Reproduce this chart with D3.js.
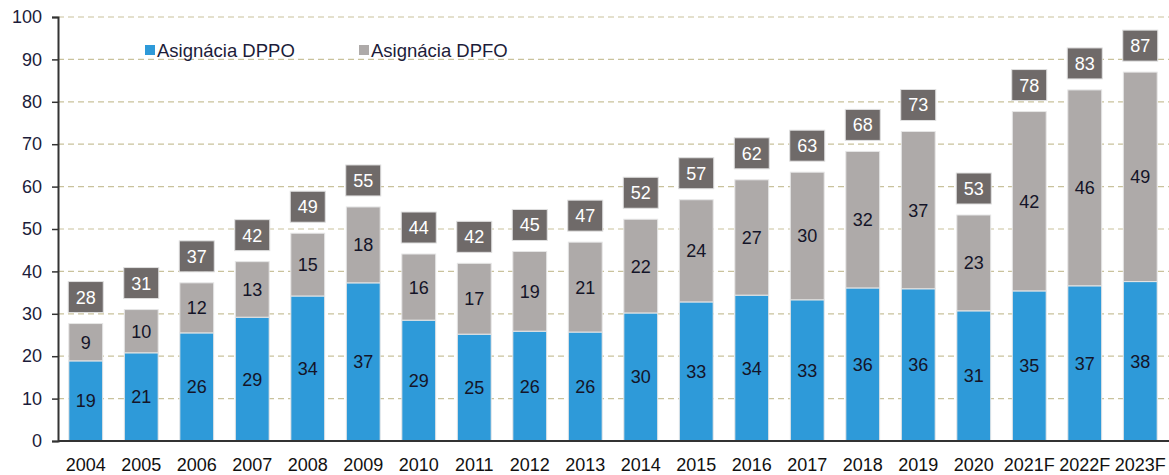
<!DOCTYPE html>
<html>
<head>
<meta charset="utf-8">
<title>Asignácia DPPO / DPFO</title>
<script src="https://d3js.org/d3.v7.min.js"></script>
<style>
body { margin: 0; background: #fff; }
svg { display: block; font-family: "Liberation Sans", Arial, sans-serif; }
</style>
</head>
<body>
<svg></svg>
<script>
var years = ["2004", "2005", "2006", "2007", "2008", "2009", "2010", "2011", "2012", "2013",
             "2014", "2015", "2016", "2017", "2018", "2019", "2020", "2021F", "2022F", "2023F"];
var dppo = [18.9, 20.8, 25.5, 29.2, 34.2, 37.3, 28.5, 25.2, 25.9, 25.7,
            30.2, 32.8, 34.4, 33.3, 36.1, 35.9, 30.7, 35.4, 36.6, 37.6];
var dpfo = [8.8, 10.2, 11.8, 13.1, 14.8, 17.9, 15.6, 16.7, 18.8, 21.2,
            22.1, 24.1, 27.2, 30.1, 32.2, 37.1, 22.6, 42.3, 46.2, 49.4];
var seriesNames = ["Asignácia DPPO", "Asignácia DPFO"];
var yTicks = [0, 10, 20, 30, 40, 50, 60, 70, 80, 90, 100];

var width = 1169, height = 475;
var plotLeft = 58, plotRight = 1168, plotTop = 17, plotBottom = 441;
var colors = ["#2e9ad9", "#aeaaa9"];
var fmt = d3.format(".0f");

var svg = d3.select("svg").attr("width", width).attr("height", height);

var x = d3.scaleBand().domain(years).range([plotLeft, plotRight]).paddingInner(0.39).paddingOuter(0.195);
var y = d3.scaleLinear().domain([0, 100]).range([plotBottom, plotTop]);

// grid
svg.append("g").selectAll("line")
    .data(yTicks.slice(1))
  .enter().append("line")
    .attr("x1", plotLeft).attr("x2", width)
    .attr("y1", function(d){ return y(d); })
    .attr("y2", function(d){ return y(d); })
    .attr("stroke", "#c9c29c")
    .attr("stroke-width", 1.2)
    .attr("stroke-dasharray", "6,4");

var rows = years.map(function(yr, i){
    return { year: yr, dppo: dppo[i], dpfo: dpfo[i] };
});
var stacked = d3.stack().keys(["dppo", "dpfo"])(rows);

// bars
var layers = svg.append("g").selectAll("g")
    .data(stacked)
  .enter().append("g")
    .attr("fill", function(d, i){ return colors[i]; });

layers.selectAll("rect")
    .data(function(d){ return d; })
  .enter().append("rect")
    .attr("x", function(d){ return x(d.data.year); })
    .attr("width", x.bandwidth())
    .attr("y", function(d){ return y(d[1]); })
    .attr("height", function(d){ return y(d[0]) - y(d[1]); })
    .attr("stroke", "#e6e6e6")
    .attr("stroke-width", 1);

// segment labels
layers.selectAll("text")
    .data(function(d){ return d; })
  .enter().append("text")
    .attr("x", function(d){ return x(d.data.year) + x.bandwidth() / 2; })
    .attr("y", function(d){ return y((d[0] + d[1]) / 2); })
    .attr("dy", "0.36em")
    .attr("text-anchor", "middle")
    .attr("font-size", 18)
    .attr("fill", "#141428")
    .text(function(d){ return fmt(d[1] - d[0]); });

// total boxes
var totals = svg.append("g").selectAll("g")
    .data(rows)
  .enter().append("g")
    .attr("transform", function(d){
        return "translate(" + (x(d.year) + x.bandwidth() / 2) + "," + (y(d.dppo + d.dpfo) - 11) + ")"; });
totals.append("rect")
    .attr("x", -17.5).attr("y", -31)
    .attr("width", 35).attr("height", 31)
    .attr("fill", "#6f6a69")
    .attr("stroke", "#e0e0e0");
totals.append("text")
    .attr("y", -15.5)
    .attr("dy", "0.36em")
    .attr("text-anchor", "middle")
    .attr("font-size", 18)
    .attr("fill", "#fff")
    .text(function(d){ return fmt(d.dppo + d.dpfo); });

// axes
var yAxis = svg.append("g")
    .attr("transform", "translate(" + plotLeft + ",0)")
    .call(d3.axisLeft(y).tickValues(yTicks).tickSize(6).tickPadding(10));
yAxis.select(".domain").attr("stroke", "#333").attr("stroke-width", 2);
yAxis.selectAll(".tick line").attr("stroke", "#333").attr("stroke-width", 1.5);
yAxis.selectAll("text").attr("font-size", 18).attr("fill", "#1c1c3a")
    .attr("font-family", "Liberation Sans, Arial, sans-serif");

var xAxis = svg.append("g")
    .attr("transform", "translate(0," + plotBottom + ")")
    .call(d3.axisBottom(x).tickSize(0).tickPadding(17));
xAxis.select(".domain").attr("stroke", "#333").attr("stroke-width", 2)
    .attr("d", "M" + plotLeft + ",0H" + width);
xAxis.selectAll("text").attr("font-size", 18).attr("fill", "#111")
    .attr("font-family", "Liberation Sans, Arial, sans-serif");

// legend
var legend = svg.append("g").selectAll("g")
    .data(seriesNames)
  .enter().append("g")
    .attr("transform", function(d, i){ return "translate(" + (145 + i * 214) + ",45)"; });
legend.append("rect")
    .attr("width", 10).attr("height", 10)
    .attr("fill", function(d, i){ return colors[i]; });
legend.append("text")
    .attr("x", 12).attr("y", 5)
    .attr("dy", "0.36em")
    .attr("font-size", 18.5)
    .attr("fill", "#1c1c3a")
    .text(function(d){ return d; });
</script>
</body>
</html>
